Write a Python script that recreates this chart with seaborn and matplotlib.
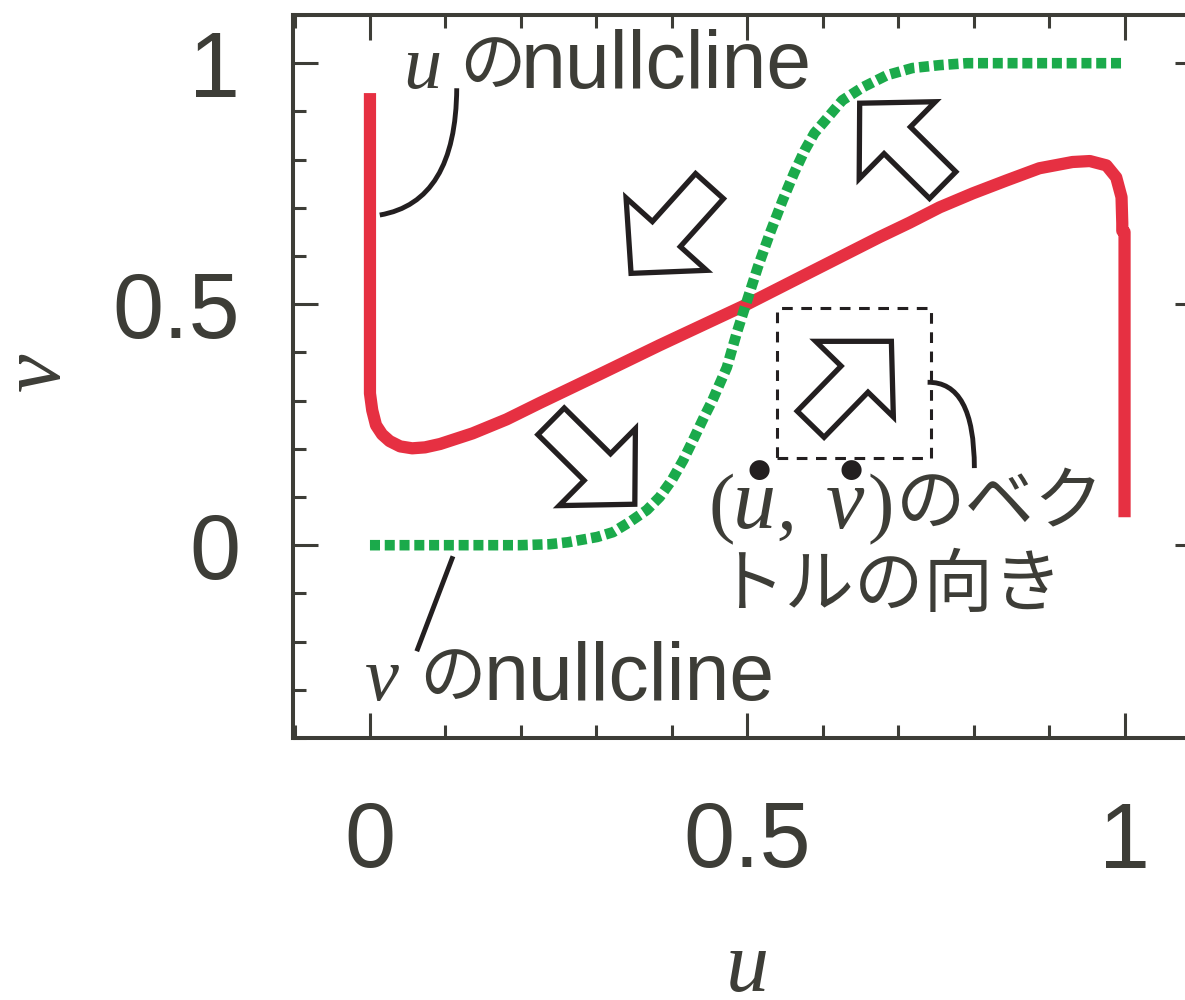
import numpy as np
import pandas as pd
import seaborn as sns
import matplotlib
matplotlib.use("Agg")
import matplotlib.pyplot as plt
from matplotlib.patches import FancyArrowPatch, Rectangle, PathPatch, ArrowStyle
from matplotlib.path import Path
from matplotlib.ticker import MultipleLocator, FixedLocator

# ---- nullcline data (u, v) ----
u_null_u = [0.000, 0.000, 0.003, 0.008, 0.016, 0.026, 0.040, 0.056, 0.073, 0.093,
            0.136, 0.181, 0.225, 0.305, 0.384, 0.500, 0.583, 0.675, 0.715, 0.755,
            0.799, 0.844, 0.887, 0.931, 0.954, 0.976, 0.989, 0.996, 0.997, 0.997,
            1.000, 1.000]
u_null_v = [0.938, 0.315, 0.280, 0.249, 0.230, 0.216, 0.205, 0.201, 0.203, 0.210,
            0.232, 0.261, 0.295, 0.355, 0.415, 0.500, 0.566, 0.639, 0.669, 0.701,
            0.730, 0.757, 0.782, 0.795, 0.797, 0.788, 0.763, 0.722, 0.668, 0.652,
            0.650, 0.058]

v_null_u = [0.000, 0.106, 0.199, 0.238, 0.262, 0.301, 0.322, 0.344, 0.367, 0.384,
            0.400, 0.415, 0.430, 0.444, 0.454, 0.473, 0.486, 0.499, 0.514, 0.530,
            0.547, 0.562, 0.576, 0.589, 0.607, 0.626, 0.653, 0.685, 0.719, 0.755,
            0.791, 0.996]
v_null_v = [0.000, 0.000, 0.000, 0.002, 0.006, 0.017, 0.027, 0.048, 0.073, 0.100,
            0.135, 0.176, 0.224, 0.270, 0.301, 0.369, 0.440, 0.504, 0.577, 0.647,
            0.716, 0.772, 0.819, 0.855, 0.888, 0.923, 0.950, 0.975, 0.990, 0.996,
            1.000, 1.000]

major_ticks = [0, 0.5, 1]
major_labels = ["0", "0.5", "1"]

# direction of (du/dt, dv/dt) in each region: (tail, tip)
flow_arrows = [((0.450, 0.745), (0.346, 0.564)),
               ((0.759, 0.747), (0.649, 0.917)),
               ((0.240, 0.257), (0.351, 0.085)),
               ((0.584, 0.251), (0.691, 0.423))]

INK = "#3d3d37"
LINE = "#231f20"
RED = "#e63042"
GREEN = "#1baa4b"

sns.set_theme(style="ticks")
plt.rcParams["font.family"] = ["Liberation Sans", "Noto Sans CJK JP", "DejaVu Sans"]

fig = plt.figure(figsize=(11.85, 10), dpi=100)
ax = fig.add_axes([293 / 1185, 262 / 1000, 907 / 1185, 723 / 1000])

u_df = pd.DataFrame({"u": u_null_u, "v": u_null_v})
v_df = pd.DataFrame({"u": v_null_u, "v": v_null_v})

sns.lineplot(data=u_df, x="u", y="v", sort=False, estimator=None, ax=ax,
             color=RED, linewidth=8.8, solid_joinstyle="round", solid_capstyle="butt")
sns.lineplot(data=v_df, x="u", y="v", sort=False, estimator=None, ax=ax,
             color=GREEN, linewidth=7.6, linestyle=(0, (0.95, 0.45)),
             dash_capstyle="butt")

ax.set_xlim(-0.102, 1.1)
ax.set_ylim(-0.4, 1.1)

# axes frame and ticks
for s in ax.spines.values():
    s.set_linewidth(2.9)
    s.set_color(INK)
ax.xaxis.set_major_locator(FixedLocator(major_ticks))
ax.yaxis.set_major_locator(FixedLocator(major_ticks))
ax.xaxis.set_minor_locator(MultipleLocator(0.1))
ax.yaxis.set_minor_locator(MultipleLocator(0.1))
ax.set_xticklabels(major_labels)
ax.set_yticklabels(major_labels)
ax.tick_params(which="both", direction="in", top=True, right=True,
               labeltop=False, labelright=False, color=INK, width=2.2)
ax.tick_params(which="major", length=18, labelsize=66, labelcolor=INK)
ax.tick_params(which="minor", length=9.4)
ax.tick_params(axis="y", which="major", pad=38)
ax.tick_params(axis="x", which="major", pad=45)

serif_it = dict(family="Liberation Serif", style="italic", color=INK)
serif_up = dict(family="Liberation Serif", color=INK)

ax.set_xlabel("u", fontsize=62, **serif_it)
ax.set_ylabel("v", fontsize=62, **serif_it)
ax.xaxis.set_label_coords(0.5006, -0.350)
ax.xaxis.label.set_verticalalignment("baseline")
ax.yaxis.set_label_coords(-0.281, 0.506)
ax.yaxis.label.set_verticalalignment("center")

# nullcline labels
cjk = dict(family=["Noto Sans CJK JP", "DejaVu Sans"], color=INK)
sans = dict(family="Liberation Sans", color=INK)

ax.text(0.044, 0.948, "u", fontsize=55, va="baseline", **serif_it)
ax.text(0.118, 0.955, "の", fontsize=48, va="baseline", **cjk)
ax.text(0.199, 0.948, "nullcline", fontsize=58, va="baseline", **sans)

ax.text(-0.007, -0.322, "v", fontsize=55, va="baseline", **serif_it)
ax.text(0.065, -0.315, "の", fontsize=48, va="baseline", **cjk)
ax.text(0.151, -0.322, "nullcline", fontsize=58, va="baseline", **sans)

# vector direction label
ax.text(0.448, 0.035, "(", fontsize=57, va="baseline", **serif_up)
ax.text(0.481, 0.035, "u", fontsize=62, va="baseline", **serif_it)
ax.text(0.538, 0.035, ",", fontsize=57, va="baseline", **serif_it)
ax.text(0.604, 0.035, "v", fontsize=62, va="baseline", **serif_it)
ax.text(0.660, 0.035, ")", fontsize=57, va="baseline", **serif_up)
ax.text(0.697, 0.043, "のベク", fontsize=50, va="baseline", **cjk)
ax.text(0.458, -0.127, "トルの向き", fontsize=50, va="baseline", **cjk)
for du in (0.515, 0.638):
    ax.text(du, 0.155, "●", fontsize=19, ha="center", va="center",
            family="DejaVu Sans", color=LINE)

# flow direction block arrows
style = ArrowStyle.Simple(head_length=38, head_width=78, tail_width=27)
for tail, tip in flow_arrows:
    ax.add_patch(FancyArrowPatch(tail, tip, arrowstyle=style, mutation_scale=1,
                                 shrinkA=0, shrinkB=0, facecolor="white",
                                 edgecolor=LINE, linewidth=3.8, joinstyle="miter",
                                 zorder=4))

# highlighted region
ax.add_patch(Rectangle((0.539, 0.180), 0.204, 0.312, fill=False, edgecolor=LINE,
                       linewidth=2.2, linestyle=(0, (3.5, 2.8)), zorder=3))

# leader lines
def leader(p0, c, p1):
    path = Path([p0, c, p1], [Path.MOVETO, Path.CURVE3, Path.CURVE3])
    ax.add_patch(PathPatch(path, fill=False, edgecolor=LINE, linewidth=3.5,
                           capstyle="butt", zorder=3))

leader((0.013, 0.685), (0.114, 0.712), (0.115, 0.948))
leader((0.739, 0.338), (0.801, 0.340), (0.801, 0.160))
ax.plot([0.110, 0.062], [-0.023, -0.220], color=LINE, linewidth=3.5,
        solid_capstyle="butt")

fig.savefig("out.png", dpi=100)
